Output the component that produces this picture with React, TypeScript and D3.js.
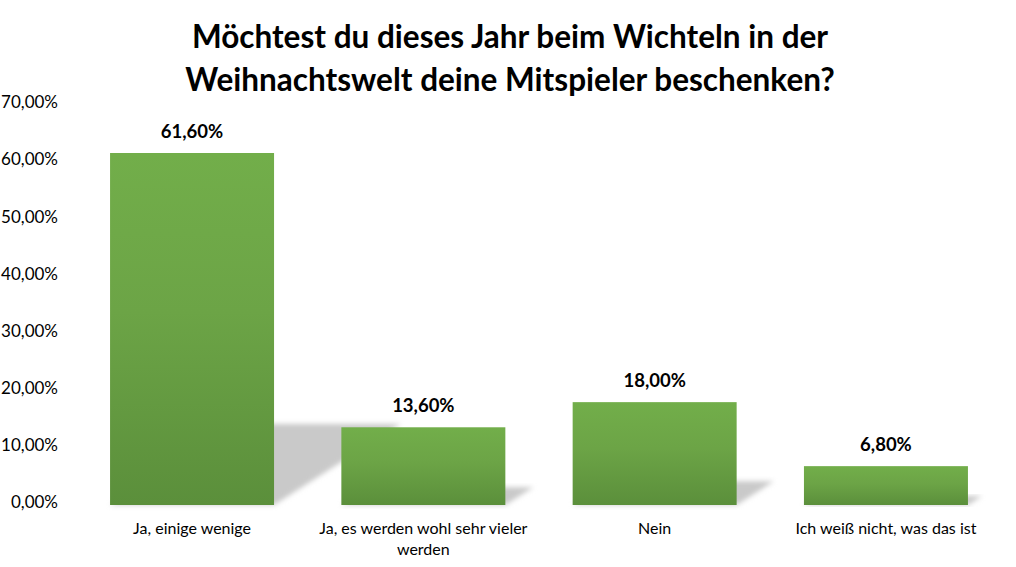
import React from "react";
import * as d3 from "d3";

const categories: string[][] = [
  ["Ja, einige wenige"],
  ["Ja, es werden wohl sehr vieler", "werden"],
  ["Nein"],
  ["Ich weiß nicht, was das ist"],
];
const values: number[] = [61.6, 13.6, 18.0, 6.8];
const yTicks: number[] = [0, 10, 20, 30, 40, 50, 60, 70];
const titleLines: string[] = [
  "Möchtest du dieses Jahr beim Wichteln in der",
  "Weihnachtswelt deine Mitspieler beschenken?",
];

const W = 1016;
const H = 567;
const FONT = "Lato, 'Open Sans', sans-serif";

const fmt = (v: number) => v.toFixed(2).replace(".", ",") + "%";

export default function App() {
  const x = d3
    .scaleBand<number>()
    .domain(values.map((_, i) => i))
    .range([76.4, 1001.6])
    .paddingInner(0.291)
    .paddingOuter(0.1455);
  const y = d3.scaleLinear().domain([0, 70]).range([505, 105]);
  const bw = x.bandwidth();
  const base = y(0);
  const kx = 0.36;
  const ky = 0.23;

  return (
    <div style={{ position: "absolute", left: 0, top: 0 }}>
      <svg width={W} height={H} style={{ display: "block", background: "#fff" }}>
        <defs>
          <linearGradient id="barGrad" x1="0" y1="0" x2="0" y2="1">
            <stop offset="0%" stopColor="#72ae4a" />
            <stop offset="45%" stopColor="#6ca446" />
            <stop offset="100%" stopColor="#5b8f3b" />
          </linearGradient>
          <filter id="blur" x="-20%" y="-20%" width="140%" height="140%">
            <feGaussianBlur stdDeviation="2.5" />
          </filter>
        </defs>
        {titleLines.map((t, i) => (
          <text
            key={i}
            x={510}
            y={48 + i * 43}
            textAnchor="middle"
            fontFamily={FONT}
            fontWeight="bold"
            fontSize={31.5}
            fill="#000"
          >
            {t}
          </text>
        ))}
        {yTicks.map((t) => (
          <text
            key={t}
            x={58}
            y={y(t) - 1}
            textAnchor="end"
            dominantBaseline="middle"
            fontFamily={FONT}
            fontSize={17}
            fill="#000"
          >
            {fmt(t)}
          </text>
        ))}
        {values.map((v, i) => {
          const x0 = x(i)!;
          const h = base - y(v);
          const pts = [
            [x0, base],
            [x0 + bw, base],
            [x0 + bw + kx * h, base - ky * h],
            [x0 + kx * h, base - ky * h],
          ];
          return (
            <polygon
              key={"s" + i}
              points={pts.map((p) => p.join(",")).join(" ")}
              fill="#c9c9c9"
              filter="url(#blur)"
            />
          );
        })}
        {values.map((v, i) => (
          <rect
            key={"b" + i}
            x={x(i)}
            y={y(v)}
            width={bw}
            height={base - y(v)}
            fill="url(#barGrad)"
          />
        ))}
        {values.map((v, i) => (
          <text
            key={"l" + i}
            x={x(i)! + bw / 2}
            y={y(v) - 15}
            textAnchor="middle"
            fontFamily={FONT}
            fontWeight="bold"
            fontSize={18.5}
            fill="#000"
          >
            {fmt(v)}
          </text>
        ))}
        {categories.map((lines, i) =>
          lines.map((l, j) => (
            <text
              key={"c" + i + "-" + j}
              x={x(i)! + bw / 2}
              y={534 + j * 21}
              textAnchor="middle"
              fontFamily={FONT}
              fontSize={16}
              fill="#000"
            >
              {l}
            </text>
          ))
        )}
      </svg>
    </div>
  );
}
